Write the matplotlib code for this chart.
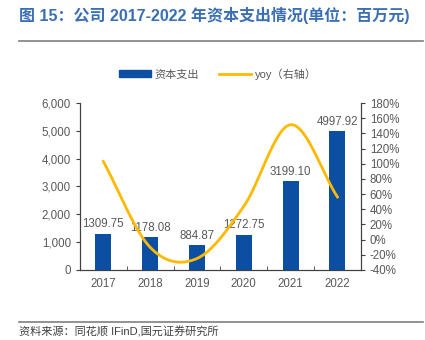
import matplotlib.pyplot as plt
from matplotlib.lines import Line2D
from matplotlib.patches import Patch
import numpy as np

plt.rcParams['font.family'] = ['Liberation Sans', 'Noto Sans CJK SC', 'DejaVu Sans']

# data
years = ['2017', '2018', '2019', '2020', '2021', '2022']
capex = [1309.75, 1178.08, 884.87, 1272.75, 3199.10, 4997.92]
yoy = [103.0, -10.1, -24.9, 43.8, 151.4, 56.2]

bar_color = '#0B4EA2'
line_color = '#FFB900'
txt_gray = '#595959'


def smooth(x, y, n=40):
    # catmull-rom, like Excel's smoothed line
    x = np.asarray(x, float)
    y = np.asarray(y, float)
    xs, ys = [], []
    for i in range(len(x) - 1):
        i0 = max(i - 1, 0)
        i3 = min(i + 2, len(x) - 1)
        mx0 = (x[i + 1] - x[i0]) / (i + 1 - i0)
        my0 = (y[i + 1] - y[i0]) / (i + 1 - i0)
        mx1 = (x[i3] - x[i]) / (i3 - i)
        my1 = (y[i3] - y[i]) / (i3 - i)
        t = np.linspace(0, 1, n)
        h00 = 2 * t**3 - 3 * t**2 + 1
        h10 = t**3 - 2 * t**2 + t
        h01 = -2 * t**3 + 3 * t**2
        h11 = t**3 - t**2
        xs.append(h00 * x[i] + h10 * mx0 + h01 * x[i + 1] + h11 * mx1)
        ys.append(h00 * y[i] + h10 * my0 + h01 * y[i + 1] + h11 * my1)
    return np.concatenate(xs), np.concatenate(ys)


fig = plt.figure(figsize=(4.25, 3.4), dpi=100)
ax = fig.add_axes([0.188, 0.206, 0.661, 0.491])

x = np.arange(len(years))
bars = ax.bar(x, capex, width=0.34, color=bar_color, zorder=2)
for xi, v in zip(x, capex):
    ax.text(xi, v + 120, f'{v:.2f}', ha='center', va='bottom', fontsize=8.3, color=txt_gray)

ax.set_ylim(0, 6000)
ax.set_yticks(np.arange(0, 6001, 1000))
ax.set_yticklabels([f'{v:,}' for v in range(0, 6001, 1000)])
ax.set_xlim(-0.5, len(years) - 0.5)
ax.set_xticks(x)
ax.set_xticklabels(years)
ax.set_xticks(np.arange(0.5, len(years) - 0.5, 1), minor=True)
ax.tick_params(axis='x', which='major', length=0, labelsize=8.3, labelcolor=txt_gray, pad=6)
ax.tick_params(axis='x', which='minor', length=3, direction='in', color='#404040')
ax.tick_params(axis='y', labelsize=8.3, labelcolor=txt_gray, length=3, color='#404040')

ax2 = ax.twinx()
sx, sy = smooth(x, yoy)
ax2.plot(sx, sy, color=line_color, lw=2, zorder=3)
ax2.set_ylim(-40, 180)
ax2.set_yticks(np.arange(-40, 181, 20))
ax2.set_yticklabels([f'{v}%' for v in range(-40, 181, 20)])
ax2.tick_params(axis='y', labelsize=8.3, labelcolor=txt_gray, length=3, color='#404040')

for a in (ax, ax2):
    a.spines['top'].set_visible(False)
    for s in ('left', 'right', 'bottom'):
        a.spines[s].set_color('#404040')
        a.spines[s].set_linewidth(0.8)

handles = [Patch(color=bar_color, label='资本支出'),
           Line2D([0], [0], color=line_color, lw=2, label='yoy（右轴）')]
fig.legend(handles=handles, loc='center', bbox_to_anchor=(0.513, 0.782), ncol=2, frameon=False,
           fontsize=8, handlelength=2.9, handleheight=0.6, handletextpad=0.3,
           columnspacing=1.8, labelcolor=txt_gray)

fig.text(0.045, 0.955, '图 15：公司 2017-2022 年资本支出情况(单位：百万元)', fontsize=11.5,
         fontweight='bold', color='#3A6EB5', va='center', ha='left')
fig.add_artist(Line2D([0.045, 0.995], [0.879, 0.879], color='#7F7F7F', lw=1.2))
fig.add_artist(Line2D([0.045, 0.995], [0.054, 0.054], color='#7F7F7F', lw=1.2))
fig.text(0.045, 0.025, '资料来源：同花顺 IFinD,国元证券研究所', fontsize=8, color='#404040',
         va='center', ha='left')

fig.savefig('out.png', dpi=100)
